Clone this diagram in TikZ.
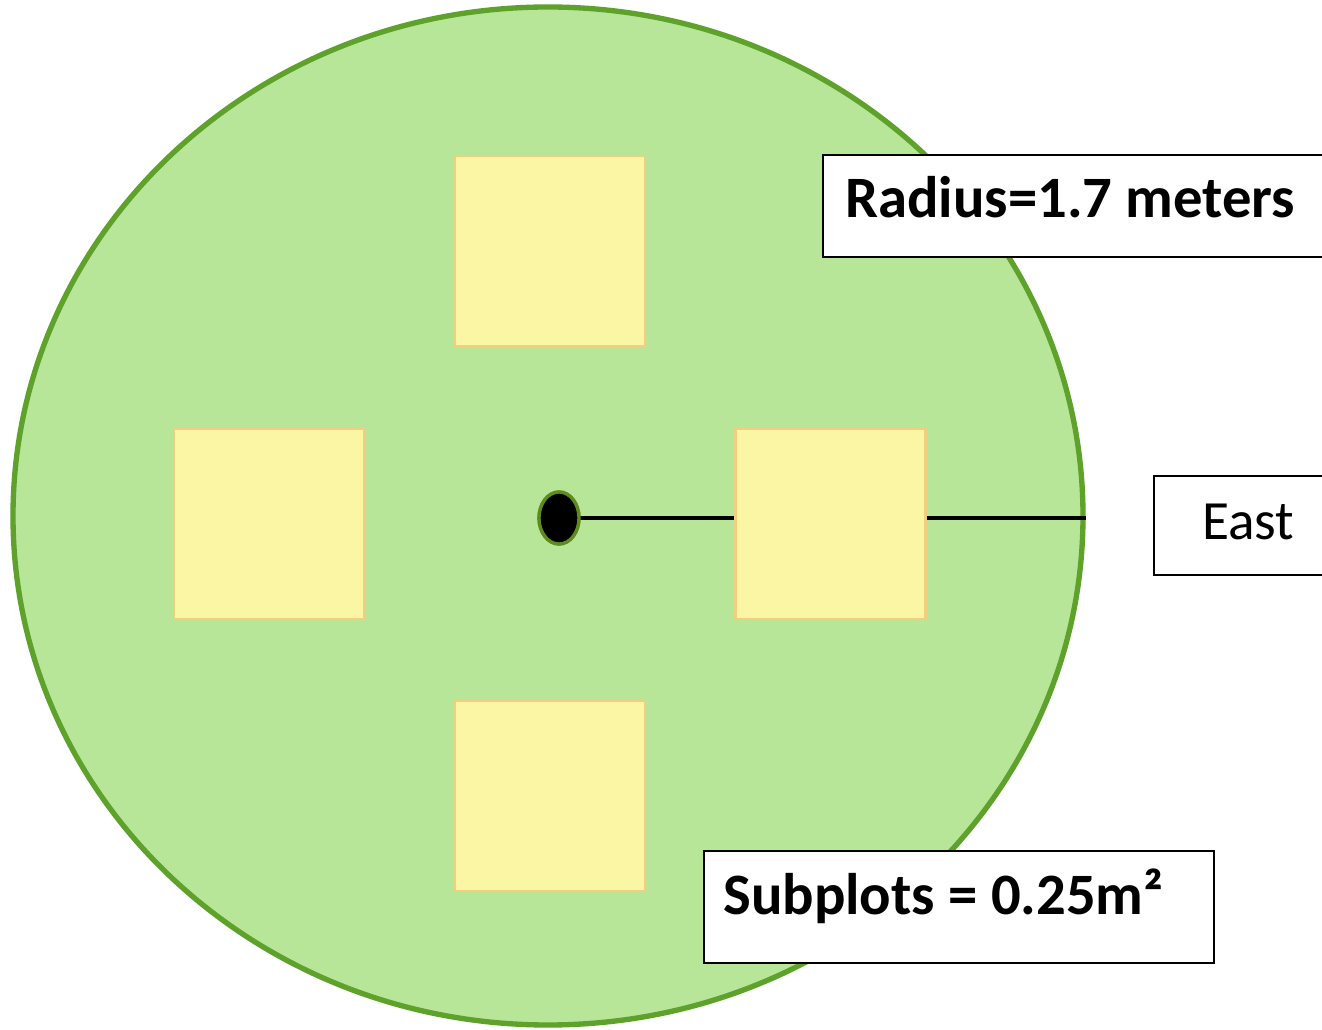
\documentclass[tikz,border=0pt]{standalone}
\usepackage{fontspec}
\setmainfont{Carlito}
\usetikzlibrary{shapes.geometric}
\definecolor{plotfill}{HTML}{B7E699}
\definecolor{plotedge}{HTML}{5EA12B}
\definecolor{subfill}{HTML}{FAF6A4}
\definecolor{subedge}{HTML}{F2CE7E}
\definecolor{dotedge}{HTML}{5E8A1E}
\tikzset{
  plotarea/.style={ellipse, draw=plotedge, fill=plotfill, line width=4pt,
    minimum width=802.5pt, minimum height=763.5pt, inner sep=0pt},
  subplot/.style={rectangle, draw=subedge, fill=subfill, line width=2.2pt,
    minimum size=142.5pt, inner sep=0pt},
  tagbox/.style={rectangle, draw=black, fill=white, line width=1.8pt,
    anchor=north west, inner sep=0pt},
  tagtext/.style={anchor=base west, inner sep=0pt,
    font=\fontsize{44pt}{52pt}\selectfont},
  radiusline/.style={line width=3.5pt, black},
  centredot/.style={ellipse, fill=black, draw=dotedge, line width=2.5pt,
    minimum width=30pt, minimum height=39pt, inner sep=0pt}
}
\begin{document}
\begin{tikzpicture}[x=0.75pt, y=-0.75pt]
  \useasboundingbox (0,0) rectangle (1322,1030);
  % circular plot
  \node[plotarea] (plot) at (548,516) {};
  % subplots
  \node[subplot] (sqN) at (550,251) {};
  \node[subplot] (sqW) at (269,524) {};
  \node[subplot] (sqE) at (830.5,524) {};
  \node[subplot] (sqS) at (550,796) {};
  % centre point and radius towards east
  \node[centredot] (centre) at (559,518) {};
  \draw[radiusline] (centre.center) -- (centre.center -| sqE.west);
  \draw[radiusline] (centre.center -| sqE.east) -- (centre.center -| plot.east);
  \node[centredot] (centretop) at (centre.center) {};
  % labels
  \node[tagbox, minimum width=384pt, minimum height=76.5pt] (radiusbox) at (822,154) {};
  \node[tagtext] (radius) at (845,218) {\bfseries Radius=1.7 meters};
  \node[tagbox, minimum width=135pt, minimum height=74.25pt] (eastbox) at (1153,475) {};
  \node[tagtext, font=\fontsize{41.5pt}{50pt}\selectfont] (east) at (1202,540) {East};
  \node[tagbox, minimum width=382.5pt, minimum height=84pt] (subbox) at (703,850) {};
  \node[tagtext] (sub) at (723,914) {\bfseries Subplots = 0.25m²};
\end{tikzpicture}
\end{document}
